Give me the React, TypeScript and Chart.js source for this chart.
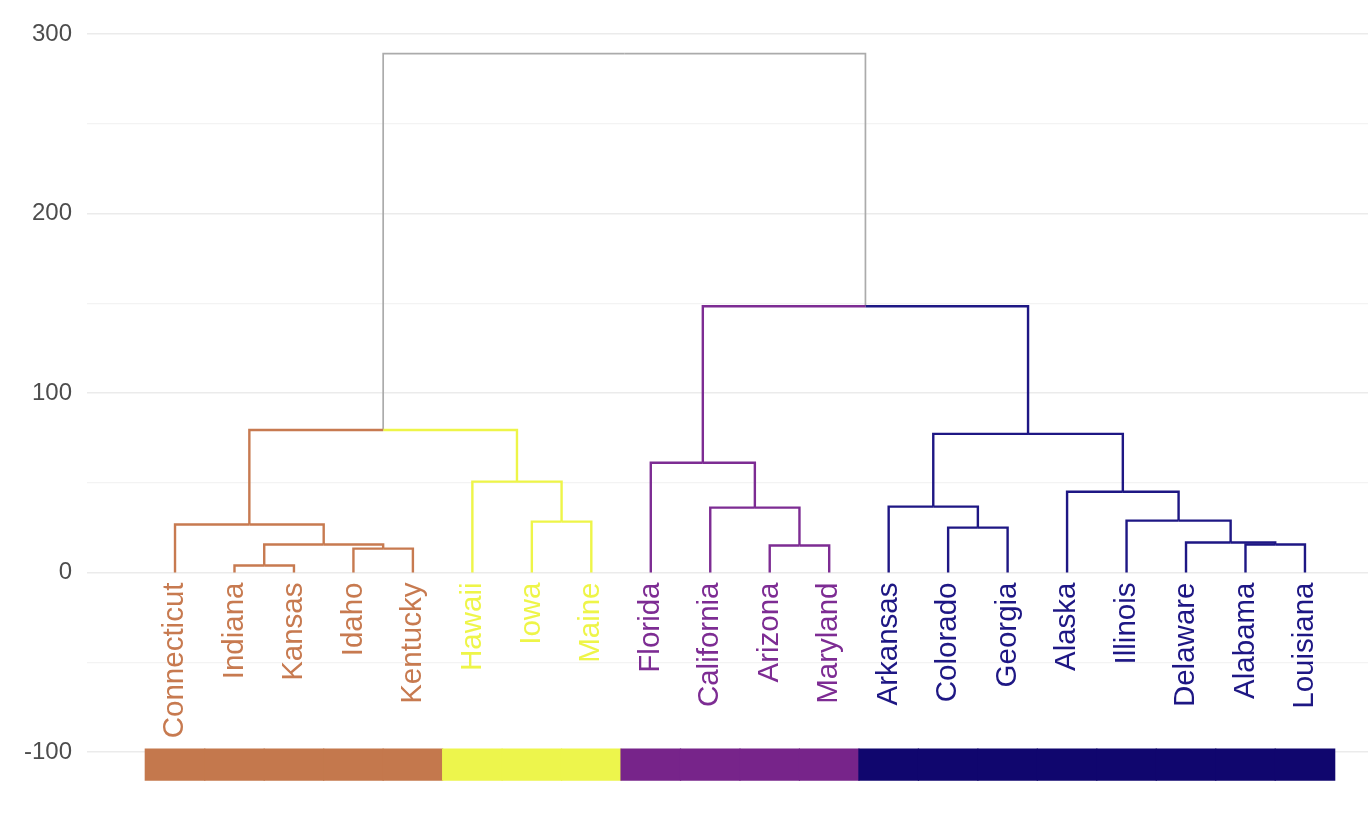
import React, { useEffect, useRef } from "react";
import { Chart, registerables } from "chart.js";
Chart.register(...registerables);

// Leaves in dendrogram order
const leafLabels = [
  "Connecticut", "Indiana", "Kansas", "Idaho", "Kentucky",
  "Hawaii", "Iowa", "Maine",
  "Florida", "California", "Arizona", "Maryland",
  "Arkansas", "Colorado", "Georgia", "Alaska", "Illinois", "Delaware", "Alabama", "Louisiana",
];
const leafClusters = [0, 0, 0, 0, 0, 1, 1, 1, 2, 2, 2, 2, 3, 3, 3, 3, 3, 3, 3, 3];

// hclust-style merges: negative = leaf (1-based), positive = earlier merge (1-based)
const mergeLeft = [-2, -4, 1, -1, -7, -6, 4, -11, -10, -9, -14, -13, -19, -18, -17, -16, 12, 10, 7];
const mergeRight = [-3, -5, 2, 3, -8, 5, 6, -12, 8, 9, -15, 11, -20, 13, 14, 15, 16, 17, 18];
const mergeHeights = [3.9, 13.3, 15.6, 26.7, 28.3, 50.6, 79.4, 15.0, 36.1, 61.1, 25.0, 36.7, 15.6, 16.7, 28.9, 45.0, 77.2, 148.3, 289.0];

const clusterLineColors = ["#C77A50", "#EEF548", "#7D2C93", "#1E1784"];
const clusterFillColors = ["#C4784D", "#EDF54C", "#77248A", "#10066E"];
const rootColor = "#ABABAB";

const yTickValues = [-100, -50, 0, 50, 100, 150, 200, 250, 300];
const yLabelValues = [-100, 0, 100, 200, 300];
const colorBarRange = [-116, -98];

type NodeInfo = { x: number; h: number; c: number };

function nodeInfo(ref: number, merges: NodeInfo[]): NodeInfo {
  if (ref < 0) {
    const i = -ref;
    return { x: i, h: 0, c: leafClusters[i - 1] };
  }
  return merges[ref - 1];
}

function buildSegments() {
  const merges: NodeInfo[] = [];
  const segs: { pts: { x: number; y: number }[]; color: string }[] = [];
  for (let m = 0; m < mergeHeights.length; m++) {
    const l = nodeInfo(mergeLeft[m], merges);
    const r = nodeInfo(mergeRight[m], merges);
    const h = mergeHeights[m];
    const x = (l.x + r.x) / 2;
    const c = l.c === r.c ? l.c : -1;
    merges.push({ x, h, c });
    for (const ch of [l, r]) {
      segs.push({
        pts: [
          { x: ch.x, y: ch.h },
          { x: ch.x, y: h },
          { x, y: h },
        ],
        color: ch.c >= 0 ? clusterLineColors[ch.c] : rootColor,
      });
    }
  }
  return segs;
}

const leafLabelPlugin = {
  id: "leafLabels",
  afterDatasetsDraw(chart: any) {
    const { ctx, scales } = chart;
    const y0 = scales.y.getPixelForValue(0) + 10;
    ctx.save();
    ctx.font = '29.5px "Liberation Sans", Arial, sans-serif';
    ctx.textAlign = "right";
    ctx.textBaseline = "middle";
    leafLabels.forEach((lab, i) => {
      const px = scales.x.getPixelForValue(i + 1);
      ctx.save();
      ctx.translate(px, y0);
      ctx.rotate(-Math.PI / 2);
      ctx.fillStyle = clusterLineColors[leafClusters[i]];
      ctx.fillText(lab, 0, 0);
      ctx.restore();
    });
    ctx.restore();
  },
};

export default function App() {
  const ref = useRef<HTMLCanvasElement | null>(null);
  useEffect(() => {
    if (!ref.current) return;
    const segs = buildSegments();
    const lineSets: any[] = segs.map((s) => ({
      type: "line",
      data: s.pts,
      borderColor: s.color,
      borderWidth: s.color === rootColor ? 1.7 : 2.4,
      pointRadius: 0,
      fill: false,
      tension: 0,
      borderJoinStyle: "miter",
      order: 0,
    }));
    const barSet: any = {
      type: "bar",
      data: leafLabels.map((_, i) => ({ x: i + 1, y: colorBarRange })),
      backgroundColor: leafClusters.map((c) => clusterFillColors[c]),
      borderWidth: 0,
      borderSkipped: false,
      barPercentage: 1.02,
      categoryPercentage: 1,
      order: 1,
    };
    const chart = new Chart(ref.current, {
      type: "line",
      data: { datasets: [barSet, ...lineSets] },
      options: {
        animation: false,
        responsive: false,
        layout: { padding: 0 },
        plugins: { legend: { display: false }, tooltip: { enabled: false } },
        scales: {
          x: {
            type: "linear",
            display: false,
            offset: false,
            grid: { offset: false },
            min: -0.48,
            max: 21.06,
          },
          y: {
            type: "linear",
            min: -139,
            max: 318.9,
            border: { display: false },
            grid: {
              drawTicks: false,
              color: (c: any) => (c.tick && c.tick.value % 100 === 0 ? "#EBEBEB" : "#F3F3F3"),
              lineWidth: (c: any) => (c.tick && c.tick.value % 100 === 0 ? 1.5 : 1.2),
            },
            ticks: {
              padding: 15,
              color: "#4D4D4D",
              font: { family: '"Liberation Sans", Arial, sans-serif', size: 24 },
              callback: (v: any) => (yLabelValues.includes(Number(v)) ? String(v) : ""),
            },
            afterBuildTicks: (scale: any) => {
              scale.ticks = yTickValues.map((v) => ({ value: v }));
            },
            afterFit: (scale: any) => {
              scale.width = 87;
              scale.paddingTop = 0;
              scale.paddingBottom = 0;
            },
          },
        },
      },
      plugins: [leafLabelPlugin],
    } as any);
    return () => chart.destroy();
  }, []);
  return (
    <div style={{ position: "absolute", left: 0, top: 0, width: 1368, height: 822, background: "#fff" }}>
      <canvas ref={ref} width={1368} height={822} style={{ display: "block", width: 1368, height: 822 }} />
    </div>
  );
}
